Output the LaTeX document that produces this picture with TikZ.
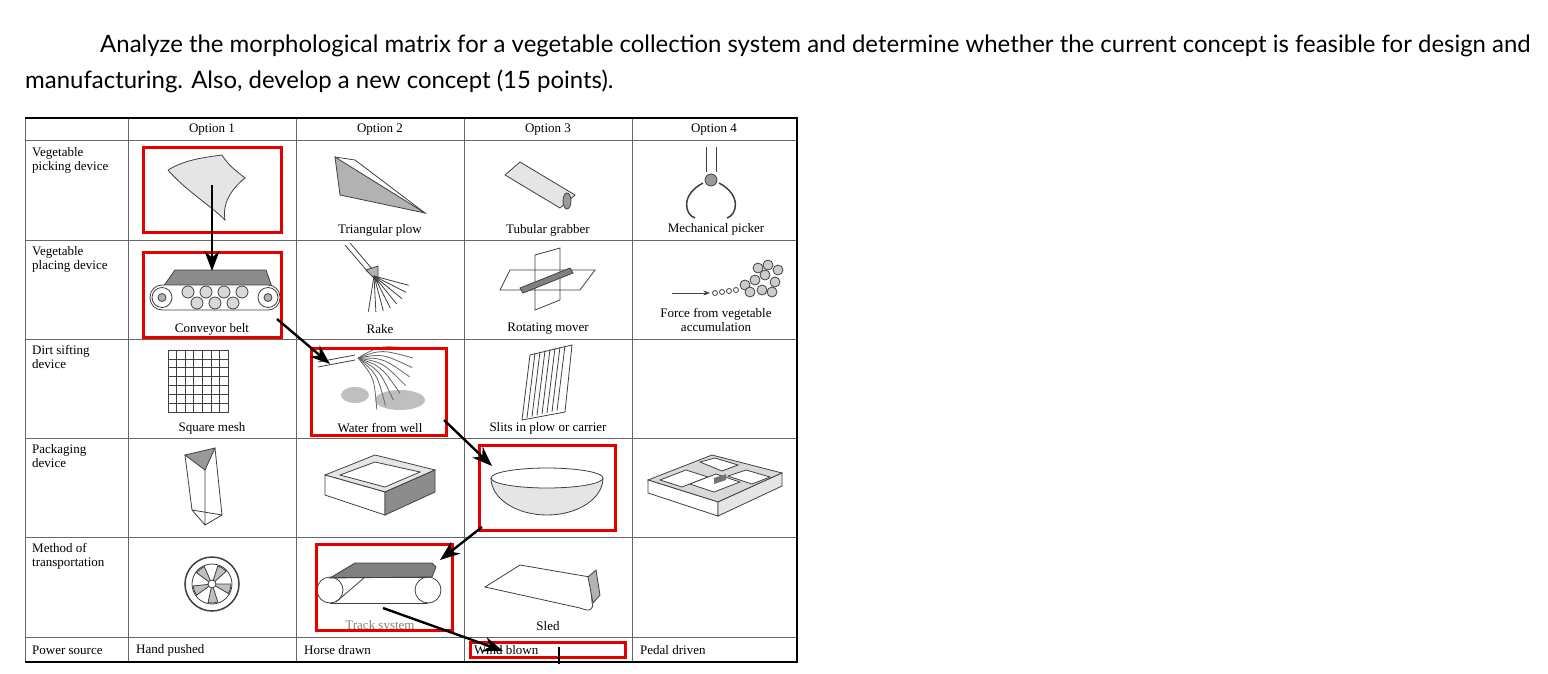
\documentclass[tikz,border=0pt]{standalone}
\usepackage{fontspec}
\setmainfont{Liberation Serif}
\newfontfamily\lato{Lato}
\usetikzlibrary{arrows.meta}
\begin{document}
\begin{tikzpicture}[x=1pt,y=-1pt,
  lab/.style={font=\fontsize{13}{14}\selectfont,inner sep=0pt},
  rowlab/.style={font=\fontsize{13}{14.5}\selectfont,inner sep=0pt,anchor=north west,align=left},
  redbox/.style={draw=red!90!black,line width=3pt},
  arr/.style={line width=2.4pt,-{Stealth[length=20pt,width=15pt]}},
  ill/.style={draw=black!75,line width=0.8pt},
  grid/.style={draw=black!60,line width=0.7pt}]
\useasboundingbox (0,0) rectangle (1548,673);
\fill[white] (0,0) rectangle (1548,673);
\node[font=\lato\fontsize{23.95}{26}\selectfont,anchor=base west,inner sep=0pt] (h1) at (100,52) {Analyze the morphological matrix for a vegetable collection system and determine whether the current concept is feasible for design and};
\node[font=\lato\fontsize{23.95}{26}\selectfont,anchor=base west,inner sep=0pt] (h2) at (25,88) {manufacturing. Also, develop a new concept (15 points).};
% grid
\draw[grid] (25,118) rectangle (797,662);
\foreach \x in {128,296,464,632} \draw[grid] (\x,118) -- (\x,662);
\foreach \y in {140,240,339,438,537,637} \draw[grid] (25,\y) -- (797,\y);
\draw[line width=1.6pt] (25,118) -- (797,118) -- (797,662) -- (25,662);
% headers
\node[lab] (o1) at (212,130) {Option 1};
\node[lab] (o2) at (380,130) {Option 2};
\node[lab] (o3) at (548,130) {Option 3};
\node[lab] (o4) at (714,130) {Option 4};
\node[rowlab] (r1) at (32,147) {Vegetable\\picking device};
\node[rowlab] (r2) at (32,246) {Vegetable\\placing device};
\node[rowlab] (r3) at (32,345) {Dirt sifting\\device};
\node[rowlab] (r4) at (32,444) {Packaging\\device};
\node[rowlab] (r5) at (32,543) {Method of\\transportation};
\node[lab,anchor=west] (r6) at (32,650) {Power source};
% captions
\node[lab] (c12) at (380,230) {Triangular plow};
\node[lab] (c13) at (548,230) {Tubular grabber};
\node[lab] (c14) at (716,229) {Mechanical picker};
\node[lab] (c21) at (212,329) {Conveyor belt};
\node[lab] (c22) at (380,329) {Rake};
\node[lab] (c23) at (548,329) {Rotating mover};
\node[lab,align=center] (c24) at (716,320) {Force from vegetable\\accumulation};
\node[lab] (c31) at (212,428) {Square mesh};
\node[lab] (c32) at (380,428) {Water from well};
\node[lab] (c33) at (548,428) {Slits in plow or carrier};
\node[lab] (c53) at (548,626) {Sled};
\node[lab,text=black!50] (c51) at (380,626) {Track system};
\node[lab,anchor=west] (p1) at (136,650) {Hand pushed};
\node[lab,anchor=west] (p2) at (304,650) {Horse drawn};
\node[lab,anchor=west] (p3) at (474,650) {Wind blown};
\node[lab,anchor=west] (p4) at (640,650) {Pedal driven};
% r1c1 scoop
\filldraw[ill,fill=black!10] (168,170) .. controls (185,160) and (200,158) .. (222,155) .. controls (228,165) and (235,170) .. (245,178) .. controls (230,190) and (222,205) .. (225,220) .. controls (210,205) and (185,190) .. (168,170);
% r1c2 plow
\filldraw[ill,fill=black!30] (335,157) -- (340,195) -- (425,213) -- cycle;
\draw[ill] (335,157) -- (355,160) -- (425,213);
% r1c3 tube
\filldraw[ill,fill=black!10] (505,175) -- (520,162) -- (575,195) -- (560,208) -- cycle;
\filldraw[ill,fill=black!40] (567,201) ellipse (4 and 8);
% r1c4 picker
\draw[ill] (706,147) -- (706,172) (716,147) -- (716,172);
\filldraw[ill,fill=black!40] (711,180) circle (6);
\draw[ill,line width=1.5pt] (703,183) .. controls (680,195) and (685,215) .. (695,218);
\draw[ill,line width=1.5pt] (719,183) .. controls (742,195) and (737,215) .. (727,218);
% r2c1 conveyor
\filldraw[ill,fill=black!45] (163,287) -- (175,270) -- (266,270) -- (272,287) -- cycle;
\draw[ill,fill=white,rounded corners=12] (150,285) rectangle (280,310);
\foreach \c in {162,268} {\draw[ill] (\c,297.5) circle (10); \filldraw[ill,fill=black!30] (\c,297.5) circle (4);}
\foreach \c in {188,206,224,242} \filldraw[ill,fill=black!15] (\c,292) circle (6);
\foreach \c in {197,215,233} \filldraw[ill,fill=black!15] (\c,303) circle (6);
% r2c2 rake
\draw[ill] (345,245) -- (368,272) (350,243) -- (373,270);
\filldraw[ill,fill=black!30] (366,270) -- (378,266) -- (378,282) -- cycle;
\foreach \a in {15,27,39,51,63,75,87,99} \draw[ill] (374,276) -- ++(\a:36);
% r2c3 rotating
\draw[ill] (510,270) -- (595,270) -- (580,290) -- (500,290) -- cycle;
\draw[ill] (535,255) -- (560,248) -- (560,300) -- (535,310) -- cycle;
\filldraw[ill,fill=black!50] (520,288) -- (570,268) -- (573,273) -- (523,293) -- cycle;
% r2c4 accumulation
\draw[ill,-Stealth] (672,293) -- (710,293);
\foreach \i/\yy in {0/293,1/292,2/291,3/290} \draw[ill] (715+\i*7,\yy) circle (2.5);
\foreach \xx/\yy in {745/285,755/280,765/275,775/282,750/292,762/290,772/292,768/265,778/270,758/268} \filldraw[ill,fill=black!20] (\xx,\yy) circle (5);
% r3c1 mesh
\draw[ill] (168,350) rectangle (228,412);
\foreach \i in {1,...,6} {\draw[ill] (168+\i*8.6,350) -- (168+\i*8.6,412); \draw[ill] (168,350+\i*8.9) -- (228,350+\i*8.9);}
% r3c2 water
\draw[ill] (318,362) -- (355,355) (318,367) -- (355,360);
\fill[black!25] (355,395) ellipse (14 and 8) (400,400) ellipse (25 and 10);
\foreach \a in {-10,0,10,20,30,40,50,60,70} \draw[ill,black!60] (358,358) .. controls +(\a-20:25) .. ++(\a:55);
% r3c3 slits
\draw[ill] (530,355) -- (572,345) -- (565,412) -- (522,420) -- cycle;
\foreach \i in {1,...,7} \draw[ill] (530+\i*5,354-\i*1.2) -- (522+\i*5,419-\i*1.2);
% r4c1 box
\filldraw[ill,fill=black!40] (185,455) -- (215,448) -- (205,470) -- cycle;
\draw[ill] (185,455) -- (192,510) -- (222,515) -- (215,448) (205,470) -- (205,525) -- (222,515) (192,510) -- (205,525);
% r4c2 tray
\filldraw[ill,fill=black!10] (325,475) -- (375,455) -- (435,470) -- (385,492) -- cycle;
\filldraw[ill,fill=white] (340,475) -- (375,462) -- (420,472) -- (385,487) -- cycle;
\draw[ill,fill=white] (325,475) -- (325,495) -- (385,515) -- (385,492) -- cycle;
\filldraw[ill,fill=black!45] (385,492) -- (435,470) -- (435,492) -- (385,515) -- cycle;
% r4c3 bowl
\filldraw[ill,fill=black!10] (491,478) arc (180:0:56 and 37);
\filldraw[ill,fill=white] (547,478) ellipse (56 and 10);
% r4c4 tray
\filldraw[ill,fill=black!15] (648,480) -- (712,455) -- (782,473) -- (718,502) -- cycle;
\draw[ill,fill=white] (648,480) -- (648,493) -- (718,516) -- (718,502) -- cycle;
\draw[ill,fill=black!10] (718,502) -- (718,516) -- (782,486) -- (782,473) -- cycle;
\filldraw[ill,fill=white] (660,480) -- (686,470) -- (708,477) -- (682,487) -- cycle;
\filldraw[ill,fill=white] (690,484) -- (716,474) -- (740,482) -- (714,492) -- cycle;
\filldraw[ill,fill=white] (700,462) -- (715,458) -- (738,465) -- (722,471) -- cycle;
\filldraw[ill,fill=white] (728,476) -- (746,470) -- (770,477) -- (752,484) -- cycle;
\fill[black!55] (714,478) -- (726,474) -- (726,480) -- (714,484) -- cycle;
% r5c1 wheel
\draw[ill,line width=1.5pt] (212,584) circle (27);
\draw[ill] (212,584) circle (20);
\foreach \a in {0,72,144,216,288} \filldraw[ill,fill=black!25] (212,584) -- ++(\a:19) arc (\a:\a+30:19) -- cycle;
\filldraw[ill,fill=white] (212,584) circle (4);
% r5c2 track
\filldraw[ill,fill=black!50] (330,578) -- (355,563) -- (432,563) -- (436,567) -- (432,577) -- cycle;
\draw[ill] (330,577) -- (428,577) (330,603) -- (428,603);
\draw[ill] (330,590) circle (13) (428,590) circle (13);
\draw[ill] (336,602) -- (365,577);
% r5c3 sled
\draw[ill] (485,587) -- (520,565) -- (590,577) -- (592,602) .. controls (594,610) and (590,612) .. (580,608) -- cycle;
\filldraw[ill,fill=black!30] (588,577) -- (596,570) -- (600,595) -- (593,603) -- cycle;
% red boxes
\draw[redbox] (143,147) rectangle (281,232);
\draw[redbox] (143,252) rectangle (281,337);
\draw[redbox] (311,348) rectangle (446,435);
\draw[redbox] (479,445) rectangle (615,530);
\draw[redbox] (316,544) rectangle (452,630);
\draw[redbox] (470,642) rectangle (625,657);
% arrows
\coordinate (a1s) at (212,185); \coordinate (a1e) at (212,271);
\coordinate (a2s) at (277,319); \coordinate (a2e) at (330,364);
\coordinate (a3s) at (444,420); \coordinate (a3e) at (492,466);
\coordinate (a4s) at (482,527); \coordinate (a4e) at (440,560);
\coordinate (a5s) at (383,608); \coordinate (a5e) at (503,651);
\draw[arr] (a1s) -- (a1e);
\draw[arr] (a2s) -- (a2e);
\draw[arr] (a3s) -- (a3e);
\draw[arr] (a4s) -- (a4e);
\draw[arr] (a5s) -- (a5e);
\coordinate (v1) at (559,647); \coordinate (v2) at (559,664);
\draw[line width=2pt] (v1) -- (v2);
\end{tikzpicture}
\end{document}
